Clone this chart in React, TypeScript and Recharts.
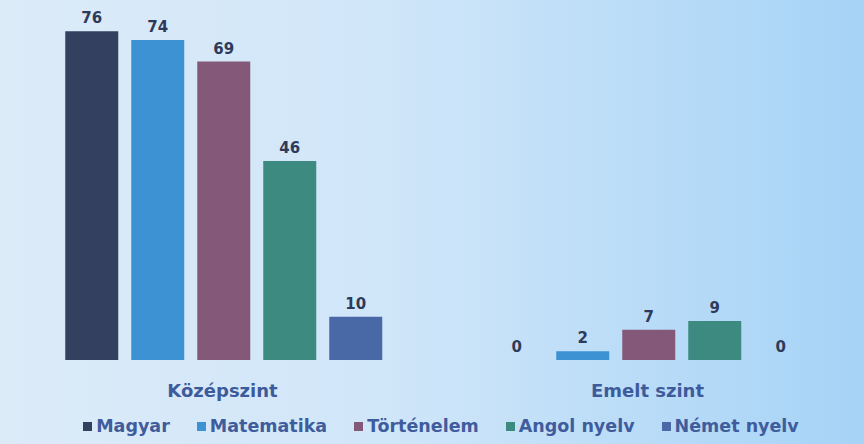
import React from "react";
import { Bar, BarChart, LabelList, Legend, XAxis, YAxis } from "recharts";

const levels = ["Középszint", "Emelt szint"];
const magyar = [76, 0];
const matematika = [74, 2];
const tortenelem = [69, 7];
const angol = [46, 9];
const nemet = [10, 0];

const series = [
	{ key: "magyar", name: "Magyar", color: "#33405f", values: magyar },
	{ key: "matematika", name: "Matematika", color: "#3d92d3", values: matematika },
	{ key: "tortenelem", name: "Történelem", color: "#845878", values: tortenelem },
	{ key: "angol", name: "Angol nyelv", color: "#3c8a80", values: angol },
	{ key: "nemet", name: "Német nyelv", color: "#4868a6", values: nemet },
];

const data = levels.map((level, i) => {
	const row: Record<string, string | number> = { level };
	series.forEach((s) => {
		row[s.key] = s.values[i];
	});
	return row;
});

const font = "'DejaVu Sans', sans-serif";

const ValueLabel = (props: any) => {
	const { x, y, width, height, value } = props;
	const top = Math.min(y, y + height);
	return (
		<text x={x + width / 2} y={top - 8} textAnchor="middle" fill="#2f3a5a" fontSize={15} fontWeight={700} fontFamily={font}>
			{value}
		</text>
	);
};

const LegendContent = () => (
	<div style={{ display: "flex", justifyContent: "center", gap: 27, paddingTop: 16, paddingLeft: 12, fontFamily: font, fontWeight: 700, fontSize: 17.5, color: "#3f5c9d" }}>
		{series.map((s) => (
			<span key={s.key} style={{ display: "flex", alignItems: "center" }}>
				<span style={{ width: 9, height: 9, background: s.color, marginRight: 4 }} />
				{s.name}
			</span>
		))}
	</div>
);

const App: React.FC = () => {
	return (
		<div
			style={{
				position: "absolute",
				left: 0,
				top: 0,
				width: 864,
				height: 444,
				background: "linear-gradient(90deg, #dcebf8 0%, #d0e6f9 45%, #a6d3f6 100%)",
			}}
		>
			<BarChart width={864} height={444} data={data} margin={{ top: 14, right: 4, left: 10, bottom: 0 }} barCategoryGap="13%" barGap={13}>
				<YAxis hide domain={[0, 80]} />
				<XAxis
					dataKey="level"
					axisLine={false}
					tickLine={false}
					height={40}
					tickMargin={18}
					tick={{ fill: "#3d5b9b", fontSize: 18, fontWeight: 700, fontFamily: font }}
				/>
				<Legend verticalAlign="bottom" height={44} content={<LegendContent />} />
				{series.map((s) => (
					<Bar
						key={s.key}
						dataKey={s.key}
						name={s.name}
						fill={s.color}
						minPointSize={(value: number) => (value === 0 ? 0.01 : 0)}
						isAnimationActive={false}
					>
						<LabelList dataKey={s.key} content={<ValueLabel />} />
					</Bar>
				))}
			</BarChart>
		</div>
	);
};

export default App;
